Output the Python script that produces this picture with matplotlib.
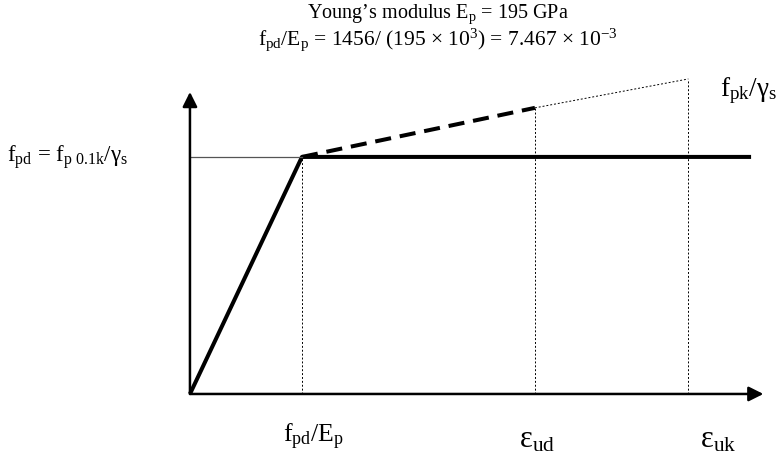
import matplotlib
matplotlib.use('Agg')
import matplotlib.pyplot as plt

# schematic values, strain in units of f_pd/E_p, stress in units of f_pd
eps_yd = 1.0
eps_ud = 3.08
eps_uk = 4.45
eps_end = 5.01
f_pd = 1.0
f_ud = 1.207
f_uk = 1.329
x_axis_end = 5.12
y_axis_end = 1.274

title_lines = [
    "Young\u2019s modulus $\\mathrm{E_p}$ = 195 GPa",
    "$\\mathrm{f_{pd}/E_p}$ = 1456/ (195 \u00d7 $\\mathrm{10^3}$) = 7.467 \u00d7 $\\mathrm{10^{\u22123}}$",
]

plt.rcParams['font.family'] = ['Liberation Serif', 'DejaVu Serif']
plt.rcParams['mathtext.fontset'] = 'custom'
plt.rcParams['mathtext.rm'] = 'Liberation Serif'
plt.rcParams['mathtext.it'] = 'Liberation Serif:italic'
plt.rcParams['mathtext.bf'] = 'Liberation Serif:bold'

fig = plt.figure(figsize=(7.83, 4.62), dpi=100)
ax = fig.add_axes([0, 0, 1, 1])
ax.set_xlim(-1.696, 5.295)
ax.set_ylim(-0.287, 1.662)
ax.axis('off')

# axes with arrows
arrow = dict(arrowstyle='-|>', lw=1.8, color='black', mutation_scale=22,
             shrinkA=0, shrinkB=0)
ax.annotate('', xy=(0, y_axis_end), xytext=(0, 0), arrowprops=arrow)
ax.annotate('', xy=(x_axis_end, 0), xytext=(0, 0), arrowprops=arrow)

# design curve
ax.plot([0, eps_yd, eps_end], [0, f_pd, f_pd], color='black', lw=2.9,
        solid_capstyle='butt')
ax.plot([eps_yd, eps_ud], [f_pd, f_ud], color='black', lw=2.9,
        dashes=(4, 2.2), dash_capstyle='butt')
ax.plot([eps_ud, eps_uk], [f_ud, f_uk], color='black', lw=0.7, ls=(0, (2, 2)))

# guide lines
ax.plot([0, eps_yd], [f_pd, f_pd], color='#555555', lw=0.9)
for x, y in [(eps_yd, f_pd), (eps_ud, f_ud), (eps_uk, f_uk)]:
    ax.plot([x, x], [0, y], color='black', lw=0.7, ls=(0, (2, 2)))

# labels
ax.text(-1.63, f_pd, "$\\mathrm{f_{pd}}$ = $\\mathrm{f_{p\\ 0.1k}/\u03b3_s}$",
        fontsize=16.5, ha='left', va='center')
ax.text(eps_yd + 0.1, -0.18, "$\\mathrm{f_{pd}/E_p}$", fontsize=18.5,
        ha='center', va='center')
ax.text(eps_ud + 0.02, -0.195, "$\\mathrm{\u03b5_{ud}}$", fontsize=22,
        ha='center', va='center')
ax.text(eps_uk + 0.27, -0.195, "$\\mathrm{\u03b5_{uk}}$", fontsize=22,
        ha='center', va='center')
ax.text(eps_uk + 0.28, 1.28, "$\\mathrm{f_{pk}/\u03b3_s}$", fontsize=19.5,
        ha='left', va='center')

ax.text(2.216, 1.60, title_lines[0], fontsize=14.5, ha='center', va='center')
ax.text(2.216, 1.494, title_lines[1], fontsize=15.5, ha='center', va='center')

plt.savefig('out.png', dpi=100)
plt.close()
